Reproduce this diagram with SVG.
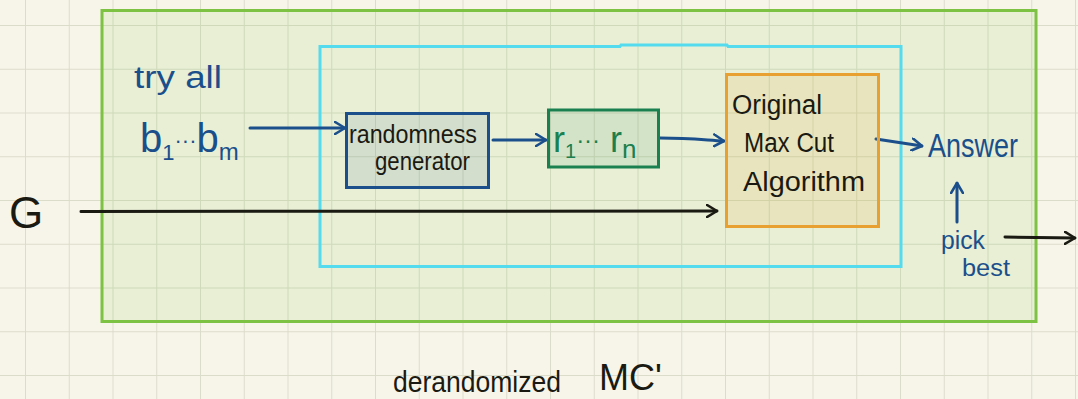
<svg xmlns="http://www.w3.org/2000/svg" width="1078" height="399" viewBox="0 0 1078 399">
  <defs>
    <pattern id="grid" patternUnits="userSpaceOnUse" x="25" y="25" width="43.75" height="43.75">
      <path d="M0,0 H43.75 M0,0 V43.75" fill="none" stroke="#dcdccb" stroke-width="2"/>
    </pattern>
    <marker id="ahBlue" viewBox="0 0 12 14" refX="11" refY="7" markerWidth="12" markerHeight="14" markerUnits="userSpaceOnUse" orient="auto">
      <path d="M1,1 L11,7 L1,13" fill="none" stroke="#1b4f8c" stroke-width="2.6" stroke-linecap="round" stroke-linejoin="round"/>
    </marker>
    <marker id="ahBlack" viewBox="0 0 12 14" refX="11" refY="7" markerWidth="12" markerHeight="14" markerUnits="userSpaceOnUse" orient="auto">
      <path d="M1,1 L11,7 L1,13" fill="none" stroke="#1a1a12" stroke-width="2.6" stroke-linecap="round" stroke-linejoin="round"/>
    </marker>
  </defs>
  <style>
    .hand { font-family: "Liberation Sans", "DejaVu Sans", sans-serif; }
    .blue { fill: #1b4f8c; }
    .black { fill: #1a1a12; }
    .green { fill: #1a8050; }
    .cb { fill: none; stroke: #1b4f8c; stroke-width: 3; stroke-linecap: round; marker-end: url(#ahBlue); }
    .ck { fill: none; stroke: #1a1a12; stroke-width: 3; stroke-linecap: round; marker-end: url(#ahBlack); }
  </style>

  <!-- paper -->
  <rect x="0" y="0" width="1078" height="399" fill="#f7f5ea"/>
  <rect x="0" y="0" width="1078" height="399" fill="url(#grid)"/>

  <!-- frames -->
  <g id="frame-derandomized">
    <rect x="102" y="10.5" width="934" height="311" fill="#7dc242" fill-opacity="0.12" stroke="#7dc242" stroke-width="3"/>
  </g>
  <g id="frame-inner">
    <path d="M320,266.5 V46.5 H620 L621,45 H727 L728,46.5 H901 V266.5 Z" fill="none" stroke="#55dbee" stroke-width="3"/>
  </g>

  <!-- connectors -->
  <g id="connectors">
    <path class="ck" d="M81,211.5 L717,211"/>
    <path class="cb" d="M250,128 L345,128"/>
    <path class="cb" d="M493,140 L546,140"/>
    <path class="cb" d="M660,138 C690,138 705,140 724,141"/>
    <path class="cb" d="M876,139 L922,146"/>
    <path class="cb" d="M957,222 L957,183"/>
    <path class="ck" d="M1005,237 L1075,238"/>
  </g>

  <!-- nodes -->
  <g id="node-try-all">
    <text class="hand blue" x="134" y="88" font-size="31" textLength="88" lengthAdjust="spacingAndGlyphs">try all</text>
    <text class="hand blue" x="140" y="152" font-size="40">b<tspan font-size="22" dy="8">1</tspan><tspan font-size="22" dy="-12">···</tspan><tspan dy="4">b</tspan><tspan font-size="24" dy="8">m</tspan></text>
  </g>

  <g id="node-randomness-generator">
    <rect x="346.5" y="113.5" width="142" height="74" fill="#1b4f8c" fill-opacity="0.1" stroke="#1b4f8c" stroke-width="3"/>
    <text class="hand black" x="349" y="143" font-size="25" textLength="128" lengthAdjust="spacingAndGlyphs">randomness</text>
    <text class="hand black" x="375" y="170" font-size="25" textLength="95" lengthAdjust="spacingAndGlyphs">generator</text>
  </g>

  <g id="node-r">
    <rect x="548.5" y="110" width="110" height="57" fill="#1a8050" fill-opacity="0.1" stroke="#1a8050" stroke-width="3"/>
    <text class="hand green" x="553" y="152" font-size="36">r<tspan font-size="20" dy="6">1</tspan><tspan font-size="24" dy="-10">···</tspan><tspan dy="4"> r</tspan><tspan font-size="26" dy="6">n</tspan></text>
  </g>

  <g id="node-maxcut">
    <rect x="726.5" y="74.5" width="152" height="152" fill="#e8a030" fill-opacity="0.14" stroke="#e8a030" stroke-width="3"/>
    <text class="hand black" x="732" y="114" font-size="27" textLength="90" lengthAdjust="spacingAndGlyphs">Original</text>
    <text class="hand black" x="744" y="152" font-size="27" textLength="90" lengthAdjust="spacingAndGlyphs">Max Cut</text>
    <text class="hand black" x="743" y="191" font-size="27" textLength="122" lengthAdjust="spacingAndGlyphs">Algorithm</text>
  </g>

  <g id="node-answer">
    <text class="hand blue" x="928" y="157" font-size="33" textLength="90" lengthAdjust="spacingAndGlyphs">Answer</text>
  </g>

  <g id="node-pick-best">
    <text class="hand blue" x="941" y="249" font-size="25" textLength="44" lengthAdjust="spacingAndGlyphs">pick</text>
    <text class="hand blue" x="962" y="276" font-size="23" textLength="48" lengthAdjust="spacingAndGlyphs">best</text>
  </g>

  <g id="node-G">
    <text class="hand black" x="9" y="228" font-size="44">G</text>
  </g>

  <g id="label-derandomized">
    <text class="hand black" x="393" y="392" font-size="30" textLength="168" lengthAdjust="spacingAndGlyphs">derandomized</text>
    <text class="hand black" x="599" y="390" font-size="36">MC'</text>
  </g>
</svg>
